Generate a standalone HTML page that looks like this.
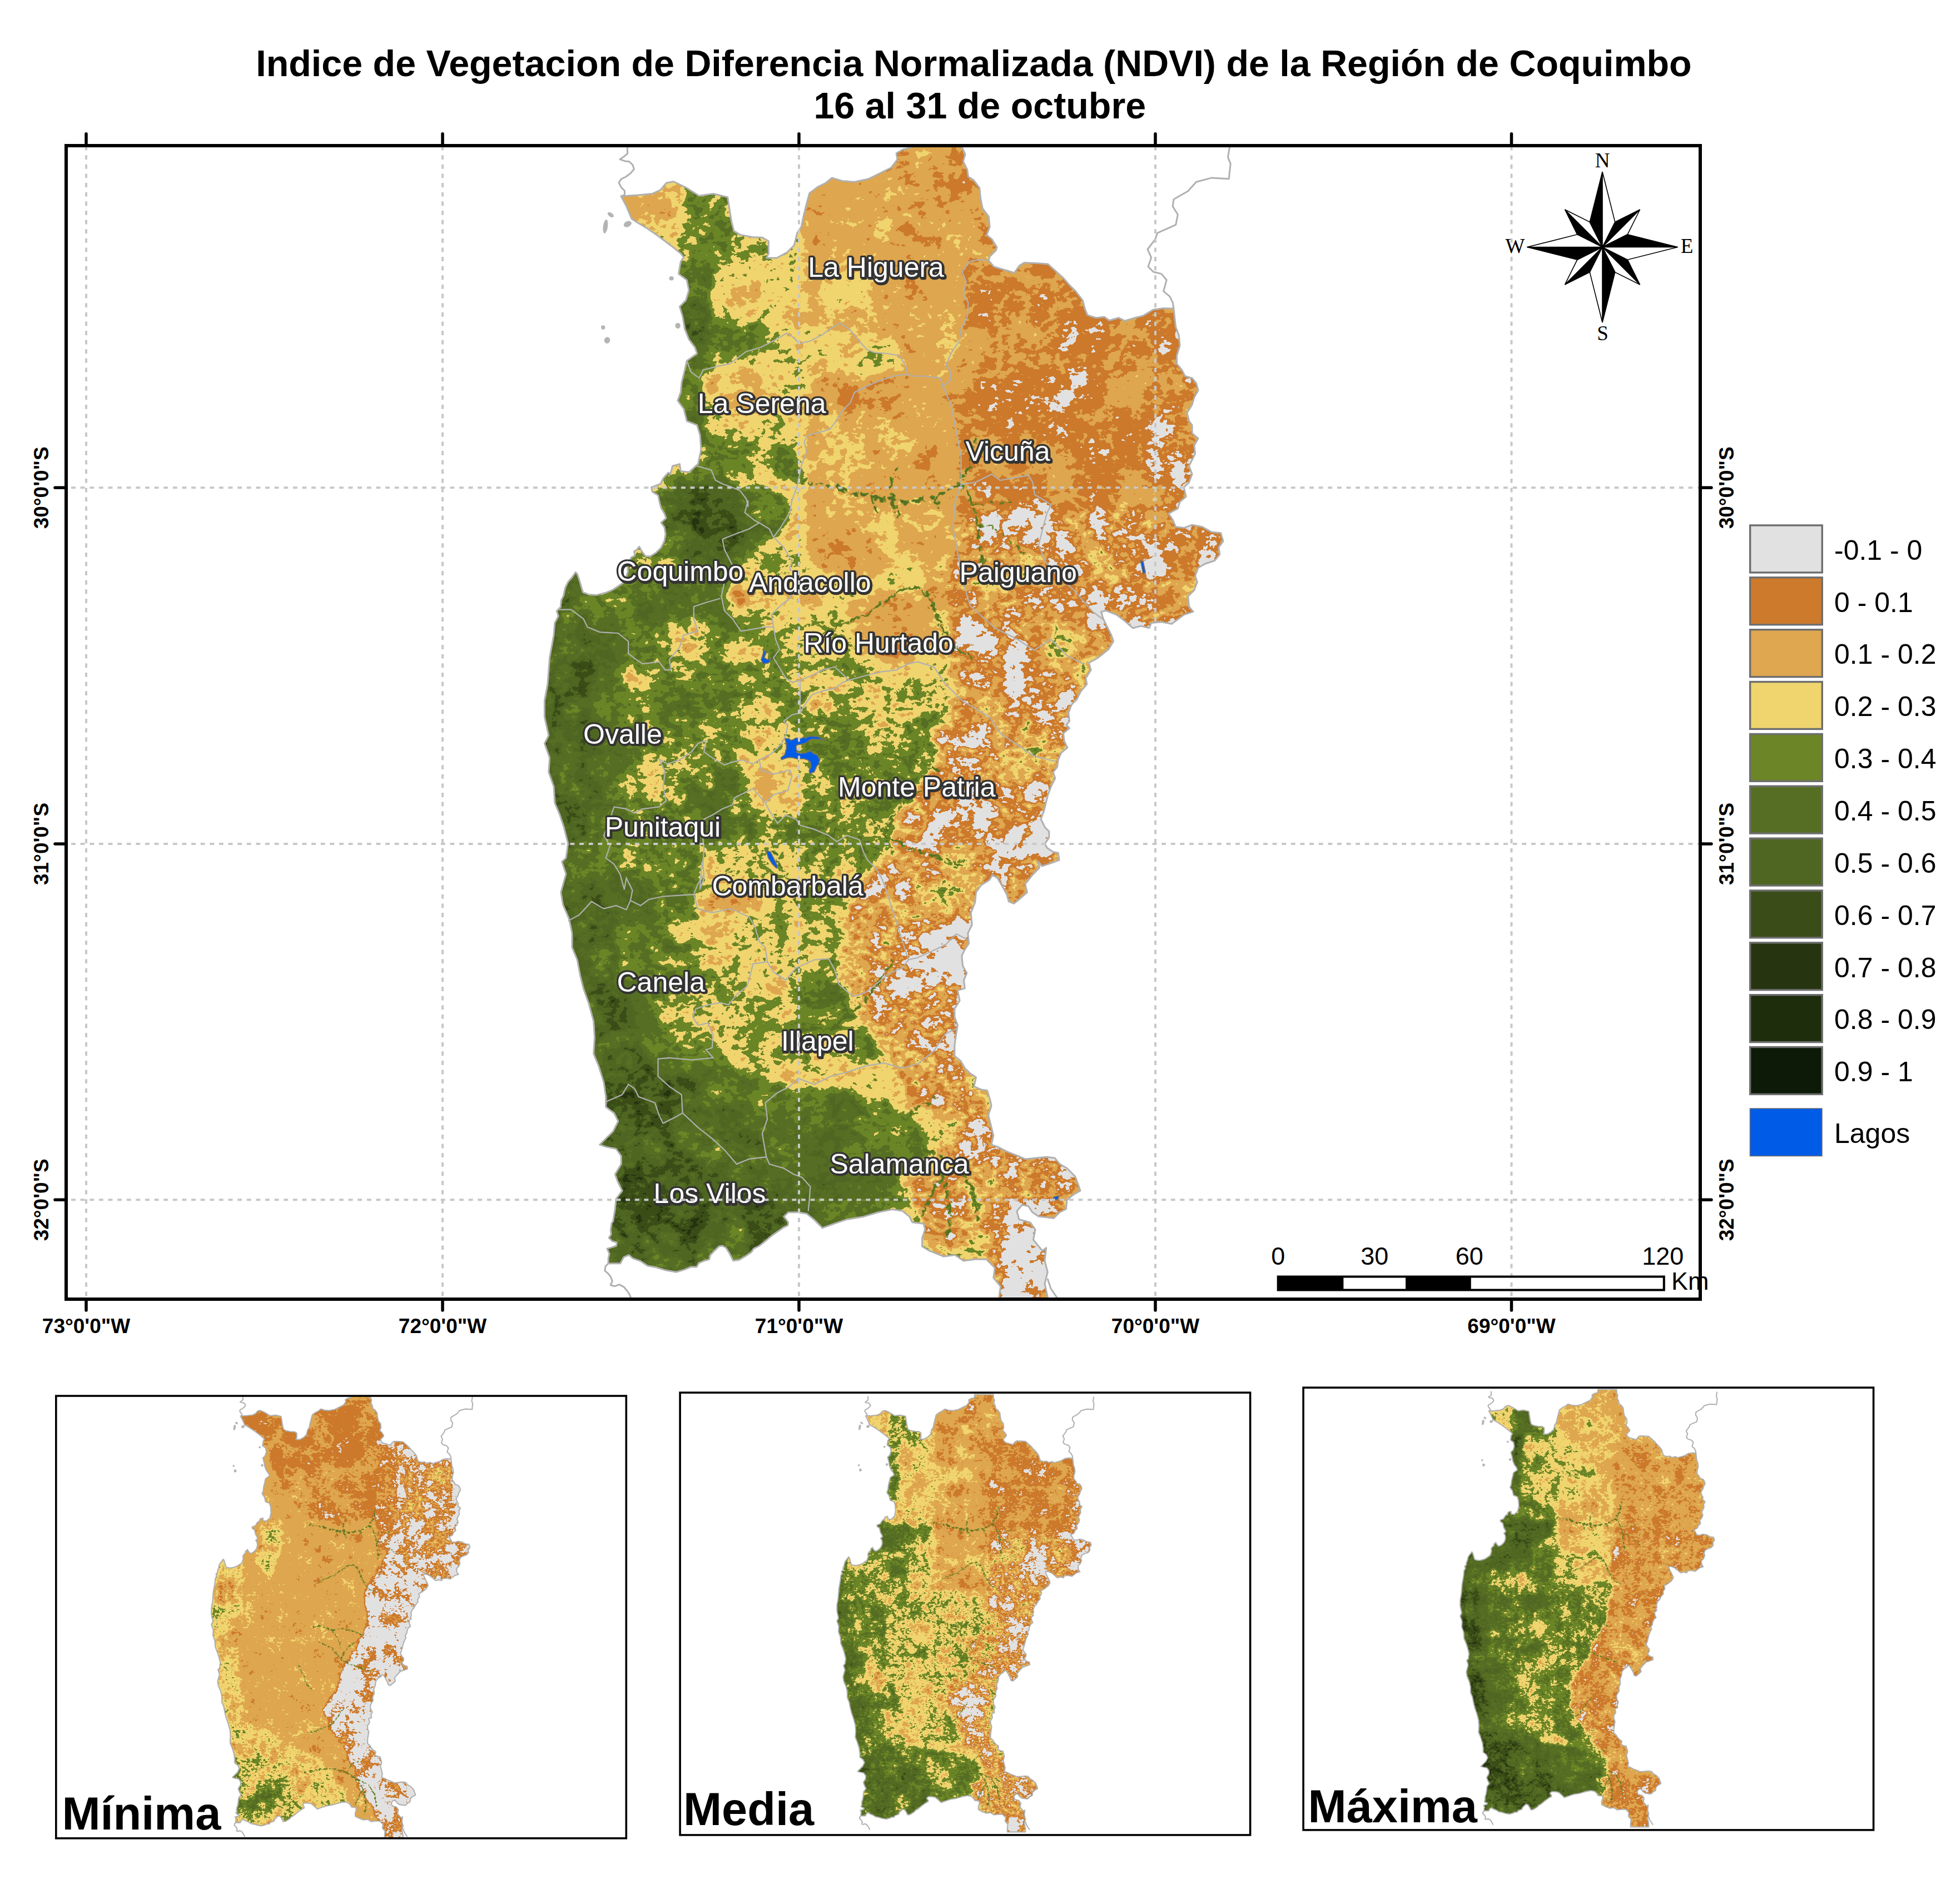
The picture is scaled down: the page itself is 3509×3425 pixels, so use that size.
<!DOCTYPE html>
<html><head><meta charset="utf-8"><title>NDVI Coquimbo</title>
<style>
html,body{margin:0;padding:0;background:#fff;}
svg{display:block;font-family:"Liberation Sans",sans-serif;}
.b{font-weight:bold;}
.lab{font-size:50px;fill:#fff;stroke:#333;stroke-width:6.5px;paint-order:stroke;stroke-linejoin:round;}
.ax{font-size:37px;font-weight:bold;fill:#000;text-anchor:middle;}
.lg{font-size:50px;fill:#000;}
.sc{font-size:45px;fill:#000;text-anchor:middle;}
.cp{font-family:"Liberation Serif",serif;font-size:37px;fill:#000;text-anchor:middle;}
.big{font-size:83px;font-weight:bold;fill:#000;}
</style></head><body>
<svg width="3509" height="3425" viewBox="0 0 3509 3425">
<defs>
<clipPath id="frameclip"><rect x="119" y="262" width="2939" height="2075"/></clipPath>
<clipPath id="region"><path d="M1116.9 352.9 L1147.1 351.1 L1172.8 348.5 L1187.5 341.9 L1198.5 329 L1211.4 326.5 L1235.3 338.2 L1257.4 352.2 L1283.1 348.5 L1308.8 354.8 L1311.8 375 L1315.4 397.1 L1319.9 415.4 L1330.9 422.1 L1352.9 426.5 L1371.3 427.2 L1382.4 433.8 L1382.4 455.9 L1378.7 464 L1397.1 464 L1415.4 454 L1428.3 441.2 L1433.8 419.1 L1441.2 408.1 L1444.9 389.7 L1450.4 367.6 L1455.9 347.4 L1470.6 336.4 L1485.3 329 L1496.3 319.9 L1514.7 325.4 L1536.8 327.2 L1562.5 321.7 L1580.9 312.5 L1602.9 301.5 L1614 286.8 L1612.1 275.7 L1625 268.4 L1639.7 265.4 L1640 250 L1730.5 250 L1730.5 265.4 L1736 277.6 L1732.4 290.4 L1739.7 305.1 L1741.5 318 L1750.7 323.5 L1761.8 338.2 L1763.6 356.6 L1767.3 375 L1778.3 389.7 L1780.1 408.1 L1774.6 422.8 L1783.8 430.1 L1793 444.9 L1791.2 450.4 L1780.1 461.4 L1778.3 468.8 L1787.5 479.8 L1805.9 485.3 L1824.3 490.8 L1833.5 477.9 L1842.6 472.4 L1864.7 473.5 L1884.9 475 L1894.1 483.5 L1912.5 500 L1923.5 512.9 L1934.6 523.9 L1947.4 540.4 L1951.1 555.1 L1955.9 566.9 L1971.3 571.7 L1986 569.9 L1995.2 576.5 L2011.8 571.7 L2022.8 577.2 L2041.2 571.7 L2055.9 568 L2074.3 557 L2092.6 554.4 L2111 555.1 L2112.9 573.5 L2114.7 588.2 L2120.2 602.9 L2122.1 621.3 L2116.5 639.7 L2116.5 654.4 L2125.7 665.4 L2131.2 676.5 L2144.1 680.1 L2151.5 689.3 L2155.1 702.2 L2147.8 715.1 L2144.1 727.9 L2134.9 742.6 L2138.6 757.4 L2144.1 764.7 L2144.1 779.4 L2155.1 788.6 L2147.8 801.5 L2149.6 816.2 L2144.1 827.2 L2138.6 838.2 L2144.1 852.9 L2138.6 867.6 L2129.4 876.8 L2133.1 893.4 L2122.1 902.6 L2118.4 914.7 L2101.8 923.9 L2109.2 934.9 L2114.7 947.8 L2129.4 949.6 L2144.1 944.1 L2162.5 947.8 L2179 957 L2195.6 958.8 L2200 973.5 L2191.9 984.6 L2193.8 997.4 L2184.6 1008.5 L2168 1014 L2155.1 1021.3 L2149.6 1036 L2153.3 1047.1 L2147.8 1061.8 L2136.8 1072.8 L2138.6 1091.2 L2146 1100.4 L2129.4 1105.9 L2114.7 1116.9 L2107.4 1122.4 L2089 1118.8 L2070.6 1120.6 L2066.9 1129.8 L2052.2 1126.1 L2037.5 1129.8 L2022.8 1116.9 L2008.1 1105.9 L1989.7 1098.5 L1980.5 1100.4 L1984.2 1113.2 L1991.5 1127.9 L1998.9 1142.6 L2002.6 1153.7 L1993.4 1168.4 L1975 1183.1 L1958.5 1192.3 L1962.1 1205.1 L1952.9 1219.9 L1954.8 1230.9 L1943.8 1243.8 L1936.4 1258.5 L1927.2 1267.6 L1921.7 1282.4 L1923.5 1297.1 L1918 1304.4 L1923.5 1309.9 L1912.5 1319.1 L1914.3 1333.8 L1919.9 1344.9 L1908.8 1354 L1903.3 1366.9 L1901.5 1379.8 L1894.1 1389 L1897.8 1400 L1890.4 1414.7 L1884.9 1429.4 L1881.2 1444.1 L1877.6 1458.8 L1872.1 1473.5 L1879.4 1488.2 L1886.8 1495.6 L1886.8 1506.6 L1879.4 1517.6 L1883.1 1525 L1894.1 1532.4 L1903.3 1534.2 L1905.1 1547.1 L1890.4 1552.6 L1873.9 1558.1 L1867.6 1550 L1869.5 1561 L1858.5 1572.1 L1843.8 1590.4 L1847.4 1605.1 L1832.7 1618 L1823.5 1625.4 L1814.3 1621.7 L1810.7 1608.8 L1801.5 1592.3 L1794.1 1579.4 L1784.9 1573.9 L1779.4 1583.1 L1764.7 1592.3 L1755.5 1605.1 L1753.7 1623.5 L1746.3 1641.9 L1748.2 1664 L1740.8 1678.7 L1742.6 1697.1 L1735.3 1708.1 L1729.8 1719.1 L1731.6 1737.5 L1739 1750.4 L1733.5 1763.2 L1735.3 1777.9 L1722.4 1781.6 L1726.1 1800 L1716.9 1814.7 L1716.9 1829.4 L1722.4 1844.1 L1718.8 1866.2 L1716.9 1880.9 L1716.9 1899.3 L1727.9 1908.5 L1735.3 1921.3 L1744.5 1930.5 L1755.5 1937.9 L1751.8 1954.4 L1764.7 1959.9 L1775.7 1961.8 L1781.2 1980.1 L1783.1 1989.3 L1777.6 2005.9 L1783.1 2027.9 L1786.8 2042.6 L1783.1 2059.2 L1794.1 2062.9 L1812.5 2072.1 L1830.9 2079.4 L1843.8 2084.9 L1864 2083.1 L1882.4 2081.2 L1897.1 2083.1 L1906.2 2094.1 L1919.1 2101.5 L1933.8 2116.2 L1939.3 2130.9 L1943 2141.9 L1930.1 2149.3 L1919.1 2158.5 L1917.3 2175 L1906.2 2180.5 L1895.2 2191.5 L1882.4 2189.7 L1867.6 2187.9 L1856.6 2180.5 L1849.3 2169.5 L1838.2 2167.6 L1829 2178.7 L1832.7 2193.4 L1852.9 2198.9 L1862.1 2211.8 L1858.5 2230.1 L1867.6 2241.2 L1875 2250 L1881.6 2244.8 L1879 2267.9 L1884.2 2288.4 L1879 2308.9 L1884.2 2333 L1884 2350 L1797 2350 L1797 2333 L1799.6 2314 L1786.8 2298.6 L1789.3 2280.7 L1774 2265.3 L1753.5 2265.3 L1733 2267.9 L1717.6 2257.6 L1697.1 2260.2 L1671.5 2249.9 L1658.6 2242.3 L1658.6 2226.9 L1663.8 2211.5 L1661.2 2201.3 L1640.7 2198.7 L1635.6 2188.4 L1622.8 2178.2 L1604.8 2175.6 L1579.2 2180.8 L1553.6 2188.4 L1522.8 2193.6 L1499.7 2201.3 L1479.2 2208.9 L1463.9 2193.6 L1451.1 2183.3 L1435.7 2180.8 L1417.7 2180.8 L1410 2188.4 L1417.7 2198.7 L1417 2204.1 L1408.8 2208.2 L1398.5 2215.4 L1388.3 2222.6 L1376 2232.8 L1365.7 2241 L1355.5 2246.1 L1351.4 2252.3 L1341.1 2259.5 L1328.8 2266.6 L1318.6 2267.7 L1315.5 2261.5 L1311.4 2253.3 L1305.3 2244.1 L1299.1 2241 L1293 2242 L1283.7 2251.3 L1277.6 2257.4 L1275.5 2265.6 L1267.3 2267.7 L1257.1 2271.8 L1253 2278.9 L1242.7 2278.9 L1230.4 2284.1 L1216.1 2288.2 L1197.6 2285.1 L1181.2 2280 L1164.8 2276.9 L1152.5 2268.7 L1138.2 2263.6 L1131 2257.4 L1121.8 2261.5 L1115.6 2272.8 L1094.1 2272.8 L1094.1 2263.6 L1096.1 2255.4 L1092 2246.1 L1099.2 2244.1 L1108.4 2241 L1109.5 2234.9 L1101.3 2232.8 L1095.1 2226.7 L1099.2 2220.5 L1098.2 2212.3 L1100.2 2200 L1102.6 2197.1 L1106.2 2175 L1108.1 2156.6 L1119.1 2141.9 L1111.8 2127.2 L1106.2 2112.5 L1117.3 2094.1 L1117.3 2079.4 L1108.1 2066.5 L1089.7 2062.9 L1078.7 2059.2 L1091.5 2046.3 L1102.6 2035.3 L1111.8 2016.9 L1104.4 2002.2 L1089.7 1991.2 L1089.7 1972.8 L1086 1947.1 L1076.8 1917.6 L1067.6 1895.6 L1069.5 1866.2 L1067.6 1836.8 L1058.5 1803.7 L1049.3 1777.9 L1043.8 1755.9 L1038.2 1726.5 L1029 1704.4 L1029 1678.7 L1023.5 1652.9 L1012.5 1627.2 L1008.8 1605.1 L1018 1572.1 L1010.7 1550 L1018 1543.4 L1021.7 1517.6 L1014.3 1488.2 L1007 1466.2 L997.8 1444.1 L996 1414.7 L986.8 1389 L988.6 1363.2 L979.4 1337.5 L986.8 1322.8 L979.4 1289.7 L979.4 1260.3 L984.9 1230.9 L988.6 1183.1 L996 1142.6 L997.8 1120.6 L1004.3 1108.3 L1001.3 1099.1 L1008.4 1091.9 L1009.5 1079.6 L1013.6 1071.4 L1016.6 1057.1 L1021.8 1046.8 L1028.9 1038.6 L1035.1 1029.4 L1038.2 1032.5 L1041.2 1040.7 L1045.3 1055 L1048.4 1065.3 L1058.7 1069.4 L1073 1070.4 L1089.4 1066.3 L1101.7 1061.2 L1114 1053 L1123.2 1046.8 L1129.4 1028.4 L1128.4 1014 L1135.5 1002.7 L1141.7 999.7 L1140.7 991.5 L1144.8 989.4 L1149.9 983.3 L1154 991.5 L1161.2 1000.7 L1169.4 1000.7 L1179.6 994.5 L1188.9 985.3 L1195 973 L1197.1 960.7 L1195 948.4 L1188.9 940.2 L1198.1 932 L1195 923.8 L1188.9 913.6 L1185.8 901.3 L1183.7 891 L1173.5 884.9 L1171.4 876.7 L1187.8 870.5 L1193 860.3 L1202.2 850 L1205.9 852.9 L1209.6 838.2 L1222.4 834.6 L1224.3 847.4 L1239 849.3 L1255.5 834.6 L1261 808.8 L1259.2 783.1 L1253.7 764.7 L1235.3 757.4 L1229.8 735.3 L1218.8 720.6 L1224.3 705.9 L1226.1 687.5 L1231.6 665.4 L1235.3 648.9 L1253.7 636 L1250 625 L1239 610.3 L1231.6 591.9 L1227.9 569.9 L1222.4 551.5 L1233.5 540.4 L1239 522.1 L1235.3 503.7 L1220.6 492.6 L1224.3 470.6 L1229.8 463.2 L1224.3 455.9 L1205.9 441.2 L1183.8 424.6 L1165.4 411.8 L1147.1 400.7 L1136 393.4 L1126.8 371.3Z"/></clipPath>
<path id="outline" d="M1116.9 352.9 L1147.1 351.1 L1172.8 348.5 L1187.5 341.9 L1198.5 329 L1211.4 326.5 L1235.3 338.2 L1257.4 352.2 L1283.1 348.5 L1308.8 354.8 L1311.8 375 L1315.4 397.1 L1319.9 415.4 L1330.9 422.1 L1352.9 426.5 L1371.3 427.2 L1382.4 433.8 L1382.4 455.9 L1378.7 464 L1397.1 464 L1415.4 454 L1428.3 441.2 L1433.8 419.1 L1441.2 408.1 L1444.9 389.7 L1450.4 367.6 L1455.9 347.4 L1470.6 336.4 L1485.3 329 L1496.3 319.9 L1514.7 325.4 L1536.8 327.2 L1562.5 321.7 L1580.9 312.5 L1602.9 301.5 L1614 286.8 L1612.1 275.7 L1625 268.4 L1639.7 265.4 L1640 250 L1730.5 250 L1730.5 265.4 L1736 277.6 L1732.4 290.4 L1739.7 305.1 L1741.5 318 L1750.7 323.5 L1761.8 338.2 L1763.6 356.6 L1767.3 375 L1778.3 389.7 L1780.1 408.1 L1774.6 422.8 L1783.8 430.1 L1793 444.9 L1791.2 450.4 L1780.1 461.4 L1778.3 468.8 L1787.5 479.8 L1805.9 485.3 L1824.3 490.8 L1833.5 477.9 L1842.6 472.4 L1864.7 473.5 L1884.9 475 L1894.1 483.5 L1912.5 500 L1923.5 512.9 L1934.6 523.9 L1947.4 540.4 L1951.1 555.1 L1955.9 566.9 L1971.3 571.7 L1986 569.9 L1995.2 576.5 L2011.8 571.7 L2022.8 577.2 L2041.2 571.7 L2055.9 568 L2074.3 557 L2092.6 554.4 L2111 555.1 L2112.9 573.5 L2114.7 588.2 L2120.2 602.9 L2122.1 621.3 L2116.5 639.7 L2116.5 654.4 L2125.7 665.4 L2131.2 676.5 L2144.1 680.1 L2151.5 689.3 L2155.1 702.2 L2147.8 715.1 L2144.1 727.9 L2134.9 742.6 L2138.6 757.4 L2144.1 764.7 L2144.1 779.4 L2155.1 788.6 L2147.8 801.5 L2149.6 816.2 L2144.1 827.2 L2138.6 838.2 L2144.1 852.9 L2138.6 867.6 L2129.4 876.8 L2133.1 893.4 L2122.1 902.6 L2118.4 914.7 L2101.8 923.9 L2109.2 934.9 L2114.7 947.8 L2129.4 949.6 L2144.1 944.1 L2162.5 947.8 L2179 957 L2195.6 958.8 L2200 973.5 L2191.9 984.6 L2193.8 997.4 L2184.6 1008.5 L2168 1014 L2155.1 1021.3 L2149.6 1036 L2153.3 1047.1 L2147.8 1061.8 L2136.8 1072.8 L2138.6 1091.2 L2146 1100.4 L2129.4 1105.9 L2114.7 1116.9 L2107.4 1122.4 L2089 1118.8 L2070.6 1120.6 L2066.9 1129.8 L2052.2 1126.1 L2037.5 1129.8 L2022.8 1116.9 L2008.1 1105.9 L1989.7 1098.5 L1980.5 1100.4 L1984.2 1113.2 L1991.5 1127.9 L1998.9 1142.6 L2002.6 1153.7 L1993.4 1168.4 L1975 1183.1 L1958.5 1192.3 L1962.1 1205.1 L1952.9 1219.9 L1954.8 1230.9 L1943.8 1243.8 L1936.4 1258.5 L1927.2 1267.6 L1921.7 1282.4 L1923.5 1297.1 L1918 1304.4 L1923.5 1309.9 L1912.5 1319.1 L1914.3 1333.8 L1919.9 1344.9 L1908.8 1354 L1903.3 1366.9 L1901.5 1379.8 L1894.1 1389 L1897.8 1400 L1890.4 1414.7 L1884.9 1429.4 L1881.2 1444.1 L1877.6 1458.8 L1872.1 1473.5 L1879.4 1488.2 L1886.8 1495.6 L1886.8 1506.6 L1879.4 1517.6 L1883.1 1525 L1894.1 1532.4 L1903.3 1534.2 L1905.1 1547.1 L1890.4 1552.6 L1873.9 1558.1 L1867.6 1550 L1869.5 1561 L1858.5 1572.1 L1843.8 1590.4 L1847.4 1605.1 L1832.7 1618 L1823.5 1625.4 L1814.3 1621.7 L1810.7 1608.8 L1801.5 1592.3 L1794.1 1579.4 L1784.9 1573.9 L1779.4 1583.1 L1764.7 1592.3 L1755.5 1605.1 L1753.7 1623.5 L1746.3 1641.9 L1748.2 1664 L1740.8 1678.7 L1742.6 1697.1 L1735.3 1708.1 L1729.8 1719.1 L1731.6 1737.5 L1739 1750.4 L1733.5 1763.2 L1735.3 1777.9 L1722.4 1781.6 L1726.1 1800 L1716.9 1814.7 L1716.9 1829.4 L1722.4 1844.1 L1718.8 1866.2 L1716.9 1880.9 L1716.9 1899.3 L1727.9 1908.5 L1735.3 1921.3 L1744.5 1930.5 L1755.5 1937.9 L1751.8 1954.4 L1764.7 1959.9 L1775.7 1961.8 L1781.2 1980.1 L1783.1 1989.3 L1777.6 2005.9 L1783.1 2027.9 L1786.8 2042.6 L1783.1 2059.2 L1794.1 2062.9 L1812.5 2072.1 L1830.9 2079.4 L1843.8 2084.9 L1864 2083.1 L1882.4 2081.2 L1897.1 2083.1 L1906.2 2094.1 L1919.1 2101.5 L1933.8 2116.2 L1939.3 2130.9 L1943 2141.9 L1930.1 2149.3 L1919.1 2158.5 L1917.3 2175 L1906.2 2180.5 L1895.2 2191.5 L1882.4 2189.7 L1867.6 2187.9 L1856.6 2180.5 L1849.3 2169.5 L1838.2 2167.6 L1829 2178.7 L1832.7 2193.4 L1852.9 2198.9 L1862.1 2211.8 L1858.5 2230.1 L1867.6 2241.2 L1875 2250 L1881.6 2244.8 L1879 2267.9 L1884.2 2288.4 L1879 2308.9 L1884.2 2333 L1884 2350 L1797 2350 L1797 2333 L1799.6 2314 L1786.8 2298.6 L1789.3 2280.7 L1774 2265.3 L1753.5 2265.3 L1733 2267.9 L1717.6 2257.6 L1697.1 2260.2 L1671.5 2249.9 L1658.6 2242.3 L1658.6 2226.9 L1663.8 2211.5 L1661.2 2201.3 L1640.7 2198.7 L1635.6 2188.4 L1622.8 2178.2 L1604.8 2175.6 L1579.2 2180.8 L1553.6 2188.4 L1522.8 2193.6 L1499.7 2201.3 L1479.2 2208.9 L1463.9 2193.6 L1451.1 2183.3 L1435.7 2180.8 L1417.7 2180.8 L1410 2188.4 L1417.7 2198.7 L1417 2204.1 L1408.8 2208.2 L1398.5 2215.4 L1388.3 2222.6 L1376 2232.8 L1365.7 2241 L1355.5 2246.1 L1351.4 2252.3 L1341.1 2259.5 L1328.8 2266.6 L1318.6 2267.7 L1315.5 2261.5 L1311.4 2253.3 L1305.3 2244.1 L1299.1 2241 L1293 2242 L1283.7 2251.3 L1277.6 2257.4 L1275.5 2265.6 L1267.3 2267.7 L1257.1 2271.8 L1253 2278.9 L1242.7 2278.9 L1230.4 2284.1 L1216.1 2288.2 L1197.6 2285.1 L1181.2 2280 L1164.8 2276.9 L1152.5 2268.7 L1138.2 2263.6 L1131 2257.4 L1121.8 2261.5 L1115.6 2272.8 L1094.1 2272.8 L1094.1 2263.6 L1096.1 2255.4 L1092 2246.1 L1099.2 2244.1 L1108.4 2241 L1109.5 2234.9 L1101.3 2232.8 L1095.1 2226.7 L1099.2 2220.5 L1098.2 2212.3 L1100.2 2200 L1102.6 2197.1 L1106.2 2175 L1108.1 2156.6 L1119.1 2141.9 L1111.8 2127.2 L1106.2 2112.5 L1117.3 2094.1 L1117.3 2079.4 L1108.1 2066.5 L1089.7 2062.9 L1078.7 2059.2 L1091.5 2046.3 L1102.6 2035.3 L1111.8 2016.9 L1104.4 2002.2 L1089.7 1991.2 L1089.7 1972.8 L1086 1947.1 L1076.8 1917.6 L1067.6 1895.6 L1069.5 1866.2 L1067.6 1836.8 L1058.5 1803.7 L1049.3 1777.9 L1043.8 1755.9 L1038.2 1726.5 L1029 1704.4 L1029 1678.7 L1023.5 1652.9 L1012.5 1627.2 L1008.8 1605.1 L1018 1572.1 L1010.7 1550 L1018 1543.4 L1021.7 1517.6 L1014.3 1488.2 L1007 1466.2 L997.8 1444.1 L996 1414.7 L986.8 1389 L988.6 1363.2 L979.4 1337.5 L986.8 1322.8 L979.4 1289.7 L979.4 1260.3 L984.9 1230.9 L988.6 1183.1 L996 1142.6 L997.8 1120.6 L1004.3 1108.3 L1001.3 1099.1 L1008.4 1091.9 L1009.5 1079.6 L1013.6 1071.4 L1016.6 1057.1 L1021.8 1046.8 L1028.9 1038.6 L1035.1 1029.4 L1038.2 1032.5 L1041.2 1040.7 L1045.3 1055 L1048.4 1065.3 L1058.7 1069.4 L1073 1070.4 L1089.4 1066.3 L1101.7 1061.2 L1114 1053 L1123.2 1046.8 L1129.4 1028.4 L1128.4 1014 L1135.5 1002.7 L1141.7 999.7 L1140.7 991.5 L1144.8 989.4 L1149.9 983.3 L1154 991.5 L1161.2 1000.7 L1169.4 1000.7 L1179.6 994.5 L1188.9 985.3 L1195 973 L1197.1 960.7 L1195 948.4 L1188.9 940.2 L1198.1 932 L1195 923.8 L1188.9 913.6 L1185.8 901.3 L1183.7 891 L1173.5 884.9 L1171.4 876.7 L1187.8 870.5 L1193 860.3 L1202.2 850 L1205.9 852.9 L1209.6 838.2 L1222.4 834.6 L1224.3 847.4 L1239 849.3 L1255.5 834.6 L1261 808.8 L1259.2 783.1 L1253.7 764.7 L1235.3 757.4 L1229.8 735.3 L1218.8 720.6 L1224.3 705.9 L1226.1 687.5 L1231.6 665.4 L1235.3 648.9 L1253.7 636 L1250 625 L1239 610.3 L1231.6 591.9 L1227.9 569.9 L1222.4 551.5 L1233.5 540.4 L1239 522.1 L1235.3 503.7 L1220.6 492.6 L1224.3 470.6 L1229.8 463.2 L1224.3 455.9 L1205.9 441.2 L1183.8 424.6 L1165.4 411.8 L1147.1 400.7 L1136 393.4 L1126.8 371.3Z"/>
<filter id="fMain" filterUnits="userSpaceOnUse" x="960" y="240" width="1260" height="2120" color-interpolation-filters="sRGB">
<feColorMatrix in="SourceGraphic" type="matrix" values="1 0 0 0 0  1 0 0 0 0  1 0 0 0 0  0 0 0 0 1" result="fv0"/>
<feGaussianBlur in="fv0" stdDeviation="7" result="fv"/>
<feColorMatrix in="SourceGraphic" type="matrix" values="0 0 1 0 0  0 0 1 0 0  0 0 1 0 0  0 0 0 0 1" result="mk0"/>
<feGaussianBlur in="mk0" stdDeviation="12" result="mk"/>
<feTurbulence type="fractalNoise" baseFrequency="0.009" numOctaves="3" seed="7" result="n"/>
<feColorMatrix in="n" type="matrix" values="1 0 0 0 0  1 0 0 0 0  1 0 0 0 0  0 0 0 0 1" result="ng"/>
<feTurbulence type="fractalNoise" baseFrequency="0.07 0.11" numOctaves="3" seed="18" result="n2"/>
<feColorMatrix in="n2" type="matrix" values="0 1 0 0 0  0 1 0 0 0  0 1 0 0 0  0 0 0 0 1" result="ng2"/>
<feTurbulence type="turbulence" baseFrequency="0.02" numOctaves="4" seed="12" result="n3"/>
<feColorMatrix in="n3" type="matrix" values="-1 0 0 0 1  -1 0 0 0 1  -1 0 0 0 1  0 0 0 0 1" result="ng3"/>
<feComposite in="ng" in2="ng2" operator="arithmetic" k1="0" k2="0.4" k3="0.26" k4="-0.0340" result="N1"/>
<feComposite in="N1" in2="ng3" operator="arithmetic" k1="0" k2="1" k3="0.3" k4="0" result="N"/>
<feComposite in="mk" in2="N" operator="arithmetic" k1="2.000" k2="-1.000" k3="0" k4="0.5" result="mn"/>
<feComposite in="fv" in2="mn" operator="arithmetic" k1="0" k2="1.0" k3="1" k4="-0.5000" result="s"/>
<feComponentTransfer in="s">
<feFuncR type="discrete" tableValues="0.8824 0.8039 0.8745 0.9412 0.4196 0.3373 0.3098 0.2275 0.1490"/>
<feFuncG type="discrete" tableValues="0.8824 0.4784 0.6549 0.8314 0.5216 0.4314 0.4000 0.3020 0.2078"/>
<feFuncB type="discrete" tableValues="0.8824 0.1725 0.3098 0.4314 0.1529 0.1373 0.1333 0.0941 0.0627"/>
</feComponentTransfer>
</filter>
<filter id="fMin" filterUnits="userSpaceOnUse" x="960" y="240" width="1260" height="2120" color-interpolation-filters="sRGB">
<feColorMatrix in="SourceGraphic" type="matrix" values="1 0 0 0 0  1 0 0 0 0  1 0 0 0 0  0 0 0 0 1" result="fv0"/>
<feGaussianBlur in="fv0" stdDeviation="7" result="fv"/>
<feColorMatrix in="SourceGraphic" type="matrix" values="0 0 1 0 0  0 0 1 0 0  0 0 1 0 0  0 0 0 0 1" result="mk0"/>
<feGaussianBlur in="mk0" stdDeviation="12" result="mk"/>
<feTurbulence type="fractalNoise" baseFrequency="0.009" numOctaves="3" seed="21" result="n"/>
<feColorMatrix in="n" type="matrix" values="1 0 0 0 0  1 0 0 0 0  1 0 0 0 0  0 0 0 0 1" result="ng"/>
<feTurbulence type="fractalNoise" baseFrequency="0.07 0.11" numOctaves="3" seed="32" result="n2"/>
<feColorMatrix in="n2" type="matrix" values="0 1 0 0 0  0 1 0 0 0  0 1 0 0 0  0 0 0 0 1" result="ng2"/>
<feTurbulence type="turbulence" baseFrequency="0.02" numOctaves="4" seed="26" result="n3"/>
<feColorMatrix in="n3" type="matrix" values="-1 0 0 0 1  -1 0 0 0 1  -1 0 0 0 1  0 0 0 0 1" result="ng3"/>
<feComposite in="ng" in2="ng2" operator="arithmetic" k1="0" k2="0.4" k3="0.26" k4="-0.0340" result="N1"/>
<feComposite in="N1" in2="ng3" operator="arithmetic" k1="0" k2="1" k3="0.3" k4="0" result="N"/>
<feComposite in="mk" in2="N" operator="arithmetic" k1="2.000" k2="-1.000" k3="0" k4="0.5" result="mn"/>
<feComposite in="fv" in2="mn" operator="arithmetic" k1="0" k2="1.0" k3="1" k4="-0.5000" result="s"/>
<feComponentTransfer in="s">
<feFuncR type="discrete" tableValues="0.8824 0.8039 0.8745 0.9412 0.4196 0.3373 0.3098 0.2275 0.1490"/>
<feFuncG type="discrete" tableValues="0.8824 0.4784 0.6549 0.8314 0.5216 0.4314 0.4000 0.3020 0.2078"/>
<feFuncB type="discrete" tableValues="0.8824 0.1725 0.3098 0.4314 0.1529 0.1373 0.1333 0.0941 0.0627"/>
</feComponentTransfer>
</filter>
<filter id="fMed" filterUnits="userSpaceOnUse" x="960" y="240" width="1260" height="2120" color-interpolation-filters="sRGB">
<feColorMatrix in="SourceGraphic" type="matrix" values="1 0 0 0 0  1 0 0 0 0  1 0 0 0 0  0 0 0 0 1" result="fv0"/>
<feGaussianBlur in="fv0" stdDeviation="7" result="fv"/>
<feColorMatrix in="SourceGraphic" type="matrix" values="0 0 1 0 0  0 0 1 0 0  0 0 1 0 0  0 0 0 0 1" result="mk0"/>
<feGaussianBlur in="mk0" stdDeviation="12" result="mk"/>
<feTurbulence type="fractalNoise" baseFrequency="0.009" numOctaves="3" seed="33" result="n"/>
<feColorMatrix in="n" type="matrix" values="1 0 0 0 0  1 0 0 0 0  1 0 0 0 0  0 0 0 0 1" result="ng"/>
<feTurbulence type="fractalNoise" baseFrequency="0.07 0.11" numOctaves="3" seed="44" result="n2"/>
<feColorMatrix in="n2" type="matrix" values="0 1 0 0 0  0 1 0 0 0  0 1 0 0 0  0 0 0 0 1" result="ng2"/>
<feTurbulence type="turbulence" baseFrequency="0.02" numOctaves="4" seed="38" result="n3"/>
<feColorMatrix in="n3" type="matrix" values="-1 0 0 0 1  -1 0 0 0 1  -1 0 0 0 1  0 0 0 0 1" result="ng3"/>
<feComposite in="ng" in2="ng2" operator="arithmetic" k1="0" k2="0.4" k3="0.26" k4="-0.0340" result="N1"/>
<feComposite in="N1" in2="ng3" operator="arithmetic" k1="0" k2="1" k3="0.3" k4="0" result="N"/>
<feComposite in="mk" in2="N" operator="arithmetic" k1="2.000" k2="-1.000" k3="0" k4="0.5" result="mn"/>
<feComposite in="fv" in2="mn" operator="arithmetic" k1="0" k2="0.78" k3="1" k4="-0.4533" result="s"/>
<feComponentTransfer in="s">
<feFuncR type="discrete" tableValues="0.8824 0.8039 0.8745 0.9412 0.4196 0.3373 0.3098 0.2275 0.1490"/>
<feFuncG type="discrete" tableValues="0.8824 0.4784 0.6549 0.8314 0.5216 0.4314 0.4000 0.3020 0.2078"/>
<feFuncB type="discrete" tableValues="0.8824 0.1725 0.3098 0.4314 0.1529 0.1373 0.1333 0.0941 0.0627"/>
</feComponentTransfer>
</filter>
<filter id="fMax" filterUnits="userSpaceOnUse" x="960" y="240" width="1260" height="2120" color-interpolation-filters="sRGB">
<feColorMatrix in="SourceGraphic" type="matrix" values="1 0 0 0 0  1 0 0 0 0  1 0 0 0 0  0 0 0 0 1" result="fv0"/>
<feGaussianBlur in="fv0" stdDeviation="7" result="fv"/>
<feColorMatrix in="SourceGraphic" type="matrix" values="0 0 1 0 0  0 0 1 0 0  0 0 1 0 0  0 0 0 0 1" result="mk0"/>
<feGaussianBlur in="mk0" stdDeviation="12" result="mk"/>
<feTurbulence type="fractalNoise" baseFrequency="0.009" numOctaves="3" seed="45" result="n"/>
<feColorMatrix in="n" type="matrix" values="1 0 0 0 0  1 0 0 0 0  1 0 0 0 0  0 0 0 0 1" result="ng"/>
<feTurbulence type="fractalNoise" baseFrequency="0.07 0.11" numOctaves="3" seed="56" result="n2"/>
<feColorMatrix in="n2" type="matrix" values="0 1 0 0 0  0 1 0 0 0  0 1 0 0 0  0 0 0 0 1" result="ng2"/>
<feTurbulence type="turbulence" baseFrequency="0.02" numOctaves="4" seed="50" result="n3"/>
<feColorMatrix in="n3" type="matrix" values="-1 0 0 0 1  -1 0 0 0 1  -1 0 0 0 1  0 0 0 0 1" result="ng3"/>
<feComposite in="ng" in2="ng2" operator="arithmetic" k1="0" k2="0.4" k3="0.26" k4="-0.0340" result="N1"/>
<feComposite in="N1" in2="ng3" operator="arithmetic" k1="0" k2="1" k3="0.3" k4="0" result="N"/>
<feComposite in="mk" in2="N" operator="arithmetic" k1="2.000" k2="-1.000" k3="0" k4="0.5" result="mn"/>
<feComposite in="fv" in2="mn" operator="arithmetic" k1="0" k2="1.0" k3="1" k4="-0.4500" result="s"/>
<feComponentTransfer in="s">
<feFuncR type="discrete" tableValues="0.8824 0.8039 0.8745 0.9412 0.4196 0.3373 0.3098 0.2275 0.1490"/>
<feFuncG type="discrete" tableValues="0.8824 0.4784 0.6549 0.8314 0.5216 0.4314 0.4000 0.3020 0.2078"/>
<feFuncB type="discrete" tableValues="0.8824 0.1725 0.3098 0.4314 0.1529 0.1373 0.1333 0.0941 0.0627"/>
</feComponentTransfer>
</filter>
<filter id="rough" filterUnits="userSpaceOnUse" x="960" y="240" width="1260" height="2120">
<feTurbulence type="fractalNoise" baseFrequency="0.09" numOctaves="2" seed="3" result="t"/>
<feDisplacementMap in="SourceGraphic" in2="t" scale="16" xChannelSelector="R" yChannelSelector="G"/>
</filter>
<g id="field"><rect x="900" y="200" width="1400" height="2200" fill="#46463d"/>
<path fill="#626259" d="M950 316.6 L1416.4 416.6 L1446.4 423.2 L1446.4 583.2 L1483.1 596.5 L1616.3 609.8 L1636.3 663.1 L1549.7 683.1 L1483.1 669.8 L1449.7 709.8 L1446.4 889.7 L1456.4 1016.3 L1549.7 1042.9 L1649.6 1016.3 L1709.6 1002.9 L1716.3 1182.9 L1702.9 1350.1 L1689.6 1349.9 L1629.7 1449.9 L1596.3 1529.9 L1549.7 1596.5 L1516.4 1663.1 L1503 1756.4 L1536.4 1823 L1583 1883 L1623 1949.6 L1683 2016.3 L1693 2116.2 L1683 2182.9 L1683 2249.5 L1683 2382.8 L950 2382.8Z"/>
<path fill="#545459" d="M1103.3 330 L1213.2 316.6 L1229.9 383.3 L1216.5 449.9 L1149.9 409.9Z"/>
<path fill="#47474c" d="M1463.1 906.3 L1649.6 909.7 L1683 956.3 L1649.6 1009.6 L1549.7 1029.6 L1469.7 1002.9Z"/>
<path fill="#47474c" d="M1523 1076.2 L1616.3 1062.9 L1676.3 1089.6 L1683 1169.5 L1583 1182.9 L1523 1142.9Z"/>
<path fill="#555559" d="M1296.5 503.2 L1363.1 509.9 L1376.4 563.2 L1309.8 569.8Z"/>
<path fill="#565659" d="M1323.1 676.4 L1403.1 683.1 L1416.4 743.1 L1336.5 743.1Z"/>
<path fill="#63634c" d="M1569.7 386.6 L1649.6 399.9 L1643 439.9 L1576.3 433.2Z"/>
<path fill="#4f4f59" d="M1483.1 496.5 L1616.3 509.9 L1656.3 563.2 L1549.7 596.5 L1476.4 569.8Z"/>
<path fill="#4f4f59" d="M1456.4 709.8 L1549.7 703.1 L1616.3 756.4 L1683 823 L1616.3 849.7 L1483.1 836.4 L1449.7 783.1Z"/>
<path fill="#555566" d="M1643 1016.3 L1709.6 1002.9 L1716.3 1182.9 L1683 1182.9 L1676.3 1089.6Z"/>
<path fill="#7b7b80" d="M1229.9 316.6 L1323.1 343.3 L1323.1 403.3 L1389.8 429.9 L1389.8 466.6 L1323.1 473.2 L1229.9 473.2 L1216.5 449.9 L1229.9 383.3Z"/>
<path fill="#969680" d="M1239 339 L1260 351.6 L1310.5 355.8 L1314.7 402 L1321 418.9 L1281 427.3 L1260 402 L1239 372.6Z"/>
<path fill="#8e8e80" d="M1268 410 L1322 420 L1345 428 L1340 446 L1290 450 L1262 436Z"/>
<path fill="#939366" d="M1203.2 469.9 L1286.5 473.2 L1283.2 516.5 L1269.8 549.8 L1268.5 583.2 L1203.2 583.2Z"/>
<path fill="#747480" d="M1263.2 573.2 L1349.8 575.2 L1393.1 596.5 L1349.8 626.5 L1313.1 633.1 L1263.2 636.5Z"/>
<path fill="#939366" d="M1203.2 583.2 L1268.5 583.2 L1283.2 663.1 L1268.5 683.1 L1261.8 729.8 L1268.5 759.7 L1203.2 759.7Z"/>
<path fill="#767680" d="M1203.2 756.4 L1268.5 759.7 L1323.1 766.4 L1349.8 796.4 L1429.8 809.7 L1439.7 863 L1203.2 863Z"/>
<path fill="#999980" d="M1149.9 843 L1216.5 853 L1253.2 873 L1296.5 856.4 L1336.5 883 L1376.4 869.7 L1409.8 889.7 L1439.7 879.7 L1419.8 916.3 L1409.8 956.3 L1376.4 966.3 L1366.5 983 L1326.5 1016.3 L1149.9 1016.3Z"/>
<path fill="#7b7b8c" d="M950 983 L1326.5 1016.3 L1313.1 1082.9 L1323.1 1136.2 L1349.8 1182.9 L1363.1 1202.8 L1416.4 1209.5 L1456.4 1236.2 L1483.1 1276.1 L1549.7 1276.1 L1616.3 1289.5 L1643 1316.1 L1656.3 1350.1 L950 1350.1Z"/>
<path fill="#969666" d="M950 983 L1083.3 1036.3 L1123.2 1116.2 L1109.9 1249.5 L1116.6 1350.1 L950 1350.1Z"/>
<path fill="#939373" d="M1016.6 1016.3 L1323.1 1016.3 L1323.1 1136.2 L1216.5 1116.2 L1116.6 1116.2 L1016.6 1082.9Z"/>
<path fill="#767680" d="M1326.5 1016.3 L1416.4 996.3 L1429.8 1082.9 L1416.4 1209.5 L1363.1 1202.8 L1323.1 1136.2 L1313.1 1082.9Z"/>
<path fill="#747480" d="M1416.4 1209.5 L1456.4 1169.5 L1523 1182.9 L1616.3 1209.5 L1683 1236.2 L1696.3 1350.1 L1656.3 1350.1 L1643 1316.1 L1616.3 1289.5 L1549.7 1276.1 L1483.1 1276.1 L1456.4 1236.2Z"/>
<path fill="#81818c" d="M950 1243.3 L1323.1 1243.3 L1323.1 1363.3 L1349.8 1449.9 L1443.1 1469.9 L1443.1 1516.5 L1269.8 1516.5 L1263.2 1583.2 L1249.8 1649.8 L1269.8 1716.4 L1296.5 1783.1 L1249.8 1849.7 L1323.1 1916.3 L950 1916.3Z"/>
<path fill="#969666" d="M950 1243.3 L1116.6 1243.3 L1129.9 1449.9 L1116.6 1583.2 L1169.9 1716.4 L1189.9 1849.7 L1229.9 1916.3 L950 1916.3Z"/>
<path fill="#636359" d="M1329.8 1363.3 L1416.4 1369.9 L1429.8 1449.9 L1349.8 1449.9Z"/>
<path fill="#76768c" d="M1443.1 1243.3 L1656.3 1243.3 L1696.3 1303.3 L1749.6 1336.6 L1736.3 1423.2 L1696.3 1516.5 L1616.3 1596.5 L1549.7 1609.8 L1516.4 1663.1 L1443.1 1676.4 L1443.1 1516.5Z"/>
<path fill="#676773" d="M1269.8 1516.5 L1443.1 1516.5 L1443.1 1676.4 L1416.4 1756.4 L1429.8 1849.7 L1443.1 1916.3 L1323.1 1916.3 L1249.8 1849.7 L1296.5 1783.1 L1269.8 1716.4 L1249.8 1649.8 L1263.2 1583.2Z"/>
<path fill="#7e7e80" d="M1443.1 1676.4 L1516.4 1663.1 L1523 1756.4 L1589.7 1783.1 L1616.3 1849.7 L1589.7 1903 L1549.7 1923 L1483.1 1936.3 L1443.1 1916.3 L1429.8 1849.7 L1416.4 1756.4Z"/>
<path fill="#939373" d="M950 1916.3 L1323.1 1916.3 L1376.4 1949.6 L1456.4 1956.3 L1536.4 1969.6 L1596.3 1983 L1643 2016.3 L1666.3 2049.6 L1663 2102.9 L1643 2142.9 L1616.3 2182.9 L1589.7 2216.2 L1483.1 2222.8 L950 2382.8Z"/>
<path fill="#aaaa99" d="M1169.9 983 L1169.9 889.7 L1229.9 869.7 L1323.1 889.7 L1349.8 949.6 L1323.1 996.3 L1229.9 1002.9Z"/>
<path fill="#aaaa99" d="M950 1016.3 L1049.9 1036.3 L1069.9 1182.9 L1063.3 1350.1 L950 1350.1Z"/>
<path fill="#a4a499" d="M1229.9 469.9 L1279.8 469.9 L1276.5 583.2 L1263.2 649.8 L1253.2 716.4 L1236.5 676.4 L1219.9 569.8Z"/>
<path fill="#b0b099" d="M950 1243.3 L1056.6 1243.3 L1083.3 1449.9 L1069.9 1583.2 L1116.6 1716.4 L1136.6 1849.7 L1169.9 1916.3 L950 1916.3Z"/>
<path fill="#b2b299" d="M950 1916.3 L1169.9 1916.3 L1229.9 1929.7 L1309.8 1983 L1383.1 2049.6 L1429.8 2116.2 L1416.4 2196.2 L1349.8 2249.5 L1216.5 2289.5 L1083.3 2316.1 L950 2316.1Z"/>
<path fill="#c2c299" d="M1083.3 1949.6 L1176.6 1969.6 L1229.9 2049.6 L1283.2 2116.2 L1269.8 2216.2 L1149.9 2262.8 L1096.6 2182.9 L1089.9 2049.6Z"/>
<path fill="#343454" d="M1742.9 463.2 L1816.2 483.2 L1882.9 469.9 L2282.6 469.9 L2282.6 916.3 L1722.9 916.3 L1726.3 849.7 L1716.3 783.1 L1702.9 716.4 L1712.9 676.4 L1726.3 596.5 L1732.9 516.5Z"/>
<path fill="#3838b2" d="M1722.9 916.3 L2282.6 916.3 L2282.6 1350.1 L1683 1350.1 L1699.6 1249.5 L1709.6 1182.9 L1699.6 1116.2 L1706.3 1049.6 L1722.9 983Z"/>
<path fill="#414154" d="M1583 290 L1616.3 250 L1749.6 250 L1796.2 449.9 L1742.9 463.2 L1683 449.9 L1616.3 416.6 L1576.3 349.9Z"/>
<path fill="#3c3ccc" d="M1702.9 1243.3 L1689.6 1349.9 L1629.7 1449.9 L1596.3 1529.9 L1549.7 1596.5 L1516.4 1663.1 L1503 1756.4 L1536.4 1823 L1583 1883 L1623 1949.6 L1683 2016.3 L1693 2116.2 L1683 2182.9 L1683 2249.5 L1683 2382.8 L2282.6 2382.8 L2282.6 1243.3Z"/>
<path fill="#4747bf" d="M1616.3 2116.2 L1782.9 2102.9 L1789.6 2350.1 L1683 2382.8 L1676.3 2249.5 L1656.3 2182.9Z"/>
<path fill="#2525a6" d="M1876.2 929.7 L1936.2 969.6 L1989.5 1069.6 L2009.5 1136.2 L1976.1 1182.9 L1909.5 1142.9 L1882.9 1049.6Z"/>
<path fill="#2828b2" d="M1736.3 1096.2 L1816.2 1109.6 L1896.2 1196.2 L1869.5 1289.5 L1789.6 1316.1 L1722.9 1276.1 L1716.3 1182.9Z"/>
<path fill="#2b2b80" d="M2076.1 663.1 L2149.4 676.4 L2156 849.7 L2196 969.6 L2149.4 1102.9 L2082.8 1109.6 L2076.1 916.3Z"/>
<path fill="#2929bf" d="M1736.3 1243.3 L1842.9 1243.3 L1836.2 1343.3 L1749.6 1356.6Z"/>
<path fill="#2929bf" d="M1749.6 1416.6 L1896.2 1423.2 L1902.8 1543.2 L1816.2 1583.2 L1742.9 1563.2Z"/>
<path fill="#2c2cd9" d="M1576.3 1643.1 L1683 1623.1 L1736.3 1716.4 L1729.6 1889.7 L1669.6 1916.3 L1589.7 1836.4 L1563 1729.8Z"/>
<path fill="#2b2bbf" d="M1782.9 2076.2 L1882.9 2069.6 L1942.8 2129.5 L1882.9 2196.2 L1869.5 2350.1 L1789.6 2350.1 L1796.2 2216.2Z"/></g>
<g id="fieldmin"><rect x="900" y="200" width="1400" height="2200" fill="#474738"/>
<path fill="#323238" d="M1058.7 273.5 L2283.9 273.5 L2283.9 978 L1793.8 978 L1763.2 886.1 L1732.6 840.2 L1594.7 863.1 L1441.6 840.2 L1365 763.6 L1288.4 625.7 L1211.8 449.6 L1058.7 449.6Z"/>
<path fill="#393959" d="M1303.7 625.7 L1518.1 579.8 L1671.3 625.7 L1732.6 840.2 L1594.7 863.1 L1441.6 840.2 L1365 763.6Z"/>
<path fill="#59596b" d="M905.5 978 L1119.9 978 L1135.2 1192.4 L1089.3 1345.6 L1119.9 1651.9 L1181.2 1805.1 L1303.7 1881.6 L1487.5 1958.2 L1610 2111.4 L1671.3 2341.1 L905.5 2341.1Z"/>
<path fill="#555566" d="M1211.8 855.5 L1303.7 840.2 L1319 978 L1242.5 1100.5 L1181.2 1039.3Z"/>
<path fill="#69698c" d="M997.4 1927.6 L1211.8 1912.3 L1365 2004.2 L1410.9 2157.3 L1365 2295.2 L997.4 2341.1Z"/>
<path fill="#77778c" d="M1089.3 2080.7 L1242.5 2065.4 L1303.7 2172.6 L1211.8 2279.9 L1089.3 2279.9Z"/>
<path fill="#10108c" d="M1763.2 464.9 L1824.5 487.9 L1947 503.2 L2130.8 549.1 L2283.9 579.8 L2283.9 2417.7 L1793.8 2417.7 L1732.6 2188 L1671.3 2111.4 L1656 2019.5 L1610 1927.6 L1548.8 1835.7 L1502.8 1743.8 L1564.1 1651.9 L1610 1529.4 L1671.3 1437.5 L1717.2 1314.9 L1701.9 1192.4 L1763.2 1069.9 L1824.5 978 L1793.8 855.5 L1824.5 732.9 L1793.8 579.8Z"/>
<path fill="#2525bf" d="M1809.1 472.6 L1947 503.2 L2115.5 564.5 L2130.8 763.6 L2115.5 947.4 L2054.2 1100.5 L1947 1100.5 L1855.1 978 L1824.5 732.9Z"/>
<path fill="#2d2d66" d="M1732.6 487.9 L1824.5 487.9 L1855.1 732.9 L1824.5 978 L1763.2 978 L1747.9 732.9Z"/></g>
<g id="lines">
<path d="M2111 555.1 L2109.2 544.1 L2103.7 533.1 L2092.6 523.9 L2098.2 503.7 L2089 492.6 L2074.3 489 L2065.1 479.8 L2070.6 463.2 L2064 448.5 L2077.9 430.1 L2081.6 419.1 L2114.7 404.4 L2118.4 386 L2109.2 371.3 L2111 358.5 L2136.8 343.8 L2151.5 327.2 L2179 319.9 L2210.3 321.7 L2213.2 294.1 L2208.5 283.1 L2212.1 261"/><path d="M1117.2 352.7 L1123.5 350.6 L1123.5 343.2 L1117.2 336.9 L1113 328.5 L1117.2 322.2 L1125.6 318 L1134 311.7 L1140.3 304.4 L1138.2 297 L1131.9 290.7 L1123.5 289.7 L1115.1 286.5 L1121.4 282.3 L1128.8 276 L1127.7 258"/><path d="M1094.1 2272.8 L1089 2277.9 L1087.9 2286.1 L1093.1 2290.2 L1098.2 2296.4 L1101.3 2304.6 L1098.2 2311.7 L1105.4 2313.8 L1113.6 2310.7 L1121.8 2314.8 L1127.9 2322 L1132 2328.1 L1137 2340"/><path d="M1884 2300 L1890 2318 L1905 2340"/>
</g>
<g id="communes"><path d="M1235.3 648.9 L1242.6 669.1 L1257.4 680.1 L1264.7 665.4 L1294.1 658.1 L1312.5 654.4 L1341.9 632.4 L1367.6 625 L1389.7 614 L1415.4 599.3 L1426.5 606.6 L1437.5 617.6 L1455.9 614 L1477.9 602.9 L1492.6 591.9 L1511 580.9 L1529.4 593.8 L1544.1 612.1 L1558.8 628.7 L1573.5 634.2 L1595.6 636 L1617.6 639.7 L1628.7 658.1 L1632.4 672.8 L1639.7 676.5 L1661.8 676.5 L1691.2 680.1 L1695.6 694.9"/><path d="M1632.4 672.8 L1606.6 676.5 L1584.6 683.8 L1558.8 694.9 L1536.8 705.9 L1529.4 724.3 L1514.7 739 L1503.7 757.4 L1492.6 772.1 L1474.3 777.6 L1452.2 783.1 L1446.7 794.1 L1450.4 812.5 L1441.2 838.2 L1437.5 856.6 L1433.8 875 L1422.8 904.4 L1424.3 900 L1420.6 922.1 L1402.2 951.5 L1391.2 966.2 L1409.6 984.6 L1424.3 1010.3 L1420.6 1025 L1431.6 1028.7"/><path d="M1253.7 838.2 L1279.4 845.6 L1286.8 864 L1301.5 871.3 L1312.5 875 L1330.9 882.4 L1341.9 897.1 L1345.6 911.8 L1345.2 900 L1339.7 922.1 L1358.1 936.8 L1365.4 940.4 L1347.1 951.5 L1317.6 962.5 L1299.3 969.9"/><path d="M1365.4 940.4 L1383.8 951.5 L1391.2 966.2"/><path d="M1778.3 468.8 L1761.8 466.9 L1743.4 470.6 L1730.5 489 L1737.9 507.4 L1732.4 529.4 L1741.5 544.1 L1739.7 569.9 L1728.7 591.9 L1725 614 L1710.3 636 L1701.1 658.1 L1708.5 665.4 L1710.3 683.8 L1695.6 694.9 L1710.3 727.9 L1721.3 783.1 L1728.7 823.5 L1728.7 871.3"/><path d="M1728.7 871.3 L1754.4 867.6 L1783.8 852.9 L1798.5 864 L1820.6 860.3 L1850 854.8 L1857.4 867.6 L1861 889.7 L1879.4 900.7 L1890.4 908.1 L1883.1 922.8 L1875.7 950 L1868 980 L1880 1010 L1905 1040 L1930 1060 L1965 1100 L1985 1115"/><path d="M1728.7 871.3 L1717.6 904.4 L1714 950 L1720 980 L1730 1040 L1745 1090 L1790 1130 L1830 1150 L1860 1170 L1890 1150 L1920 1180 L1950 1195"/><path d="M1299.3 969.9 L1302.9 988.2 L1314 1010.3 L1321.3 1025 L1302.9 1047.1 L1297.4 1072.8 L1302.9 1098.5 L1317.6 1113.2 L1332.4 1135.3 L1376.5 1127.9 L1391.2 1127.9 L1394.9 1150 L1402.2 1168.4 L1391.2 1183.1 L1402.2 1201.5 L1413.2 1219.9 L1424.3 1227.2 L1439 1223.5"/><path d="M1005.1 1096.7 L1027.2 1096.7 L1049.3 1113.2 L1056.6 1127.9 L1078.7 1137.1 L1111.8 1139 L1130.1 1153.7 L1130.1 1175.7 L1144.9 1186.8 L1155.9 1194.1 L1185.3 1190.4 L1196.3 1205.1 L1207.4 1205.1 L1203.7 1186.8 L1222.1 1164.7 L1229.4 1142.6 L1255.1 1135.3 L1247.8 1113.2 L1247.8 1091.2 L1269.9 1083.8 L1295.6 1076.5"/><path d="M1391.2 1127.9 L1387.5 1105.9 L1405.9 1087.5 L1420.6 1076.5 L1424.3 1058.1 L1431.6 1028.7"/><path d="M1185.3 1365.1 L1200 1374.3 L1222.1 1366.9 L1244.1 1352.2 L1255.1 1337.5 L1269.9 1332 L1266.2 1352.2 L1280.9 1363.2 L1302.9 1376.1 L1317.6 1370.6 L1336 1366.9 L1354.4 1374.3 L1365.4 1366.9 L1387.5 1355.9 L1405.9 1337.5 L1413.2 1322.8 L1416.9 1304.4 L1409.6 1297.1 L1424.3 1286 L1439 1282.4 L1450 1264 L1461 1249.3 L1483.1 1241.9 L1501.5 1238.2 L1516.2 1227.2 L1527.2 1223.5"/><path d="M1185.3 1365.1 L1196.3 1389 L1192.6 1414.7 L1198.2 1440.4 L1185.3 1451.5 L1155.9 1455.1 L1141.2 1462.5 L1126.5 1455.1 L1104.4 1451.5 L1097.1 1473.5 L1086 1502.9 L1097.1 1521.3 L1089.7 1543.4 L1104.4 1554.4 L1115.4 1572.8 L1122.8 1600 L1126.5 1579.4 L1137.5 1601.5 L1133.8 1619.9"/><path d="M1439 1223.5 L1457.4 1216.2 L1479.4 1205.1 L1501.5 1199.6 L1527.2 1223.5 L1552.9 1216.2 L1582.4 1208.8 L1611.8 1205.1 L1633.8 1194.1 L1650 1190.4 L1680 1200 L1700 1230 L1730 1260 L1780 1290 L1800 1320 L1830 1340 L1860 1360 L1900 1370"/><path d="M1439 1282.4 L1439 1223.5"/><path d="M1365.4 1366.9 L1369.1 1385.3 L1391.2 1392.6 L1420.6 1385.3 L1424.3 1396.3 L1416.9 1422.1 L1391.2 1429.4 L1376.5 1444.1 L1383.8 1458.8 L1398.5 1480.9 L1413.2 1466.2 L1431.6 1473.5 L1439 1484.6 L1464.7 1491.9 L1490.4 1502.9 L1505.1 1514 L1523.5 1502.9 L1545.6 1510.3 L1552.9 1532.4 L1560.3 1547.1 L1575 1561.8 L1586 1580.1 L1593.4 1600 L1633.8 1726.5"/><path d="M1376.5 1444.1 L1354.4 1418.4 L1321.3 1434.9 L1317.6 1447.8 L1299.3 1455.1 L1280.9 1466.2 L1266.2 1473.5 L1262.5 1495.6 L1266.2 1525 L1264.3 1554.4 L1266.2 1580.1 L1258.8 1600 L1262.5 1550 L1266.2 1572.1 L1255.1 1590.4 L1247.8 1608.8"/><path d="M1021.7 1656.6 L1041.9 1645.6 L1064 1621.7 L1086 1634.6 L1108.1 1629 L1126.5 1636.4 L1133.8 1619.9 L1152.2 1629 L1166.9 1618 L1192.6 1612.5 L1222.1 1610.7 L1247.8 1608.8 L1255.1 1634.6 L1280.9 1641.9 L1314 1634.6 L1347.1 1649.3 L1358.1 1667.6 L1365.4 1693.4 L1376.5 1704.4 L1380.1 1730.1"/><path d="M1380.1 1730.1 L1354.4 1733.8 L1348.9 1755.9 L1343.4 1774.3 L1325 1789 L1310.3 1807.4 L1295.6 1803.7 L1273.5 1807.4 L1251.5 1814.7 L1246 1829.4 L1255.1 1844.1 L1273.5 1840.4 L1282.7 1862.5 L1280.9 1884.6 L1269.9 1888.2 L1282.7 1902.9 L1244.1 1906.6 L1203.7 1902.9 L1183.5 1904.8 L1183.5 1936 L1203.7 1954.4 L1225.7 1969.1 L1227.6 2002.2 L1214.7 2009.6 L1192.6 2020.6 L1185.3 2005.9 L1177.9 1983.8 L1148.5 1972.8 L1141.2 1958.1 L1130.1 1950.7 L1119.1 1969.1 L1089.7 1982"/><path d="M1380.1 1730.1 L1391.2 1748.5 L1413.2 1763.2 L1431.6 1741.2 L1464.7 1726.5 L1490.4 1724.6 L1501.5 1744.9 L1508.8 1770.6 L1534.6 1792.6 L1556.6 1785.3 L1575 1770.6 L1597.1 1752.2 L1622.8 1741.2 L1633.8 1726.5 L1650 1722.8 L1700 1700 L1720 1680 L1740 1690"/><path d="M1227.6 2002.2 L1255.1 2027.9 L1280.9 2048.2 L1302.9 2068.4 L1325 2094.1 L1347.1 2084.9 L1378.3 2081.2 L1371 2039 L1380.1 2013.2 L1376.5 1983.8 L1398.5 1965.4 L1420.6 1954.4 L1435.3 1939.7 L1464.7 1950.7 L1494.1 1936 L1523.5 1928.7 L1556.6 1917.6 L1589.7 1912.1 L1622.8 1921.3 L1650 1914 L1680 1890 L1700 1860 L1720 1850"/><path d="M1378.3 2081.2 L1383.8 2094.1 L1409.6 2101.5 L1427.9 2112.5 L1442.6 2118 L1457.4 2134.6 L1455.5 2160.3 L1453.7 2178.7"/></g>
<g id="islands"><ellipse cx="1098.3" cy="386.3" rx="6.3" ry="3.5" transform="rotate(35 1098.3 386.3)"/><ellipse cx="1088.9" cy="407.3" rx="4.2" ry="12.5" transform="rotate(8 1088.9 407.3)"/><ellipse cx="1128.8" cy="403.1" rx="7.5" ry="5" transform="rotate(-25 1128.8 403.1)"/><ellipse cx="1207.6" cy="500.8" rx="4.2" ry="3.8" transform="rotate(0 1207.6 500.8)"/><ellipse cx="1084.7" cy="589" rx="3.7" ry="3.7" transform="rotate(0 1084.7 589)"/><ellipse cx="1092" cy="612.1" rx="5.2" ry="5.8" transform="rotate(20 1092 612.1)"/><ellipse cx="1219.1" cy="585.9" rx="4.7" ry="5.2" transform="rotate(0 1219.1 585.9)"/></g>
<g id="valleys"><g fill="none" stroke-linecap="butt" stroke-linejoin="round"><path d="M1483.1 873 L1516.4 879.7 L1536.4 888.3 L1563 891 L1583 897.7 L1606.3 899.7 L1629.7 903 L1656.3 899.7 L1683 893 L1702.9 883 L1722.9 871 L1736.3 853 L1746.3 829.7 L1749.6 806.4 L1756.3 783.1" stroke="#6b8527" stroke-width="6.7" stroke-dasharray="14 8 22 10 9 7"/><path d="M1443.1 866.4 L1463.1 869.7 L1483.1 873" stroke="#6b8527" stroke-width="4.9" stroke-dasharray="6 9"/><path d="M1606.3 899.7 L1599.7 876.3 L1609.7 849.7 L1616.3 836.4" stroke="#6b8527" stroke-width="5.5" stroke-dasharray="14 8 22 10 9 7"/><path d="M1569.7 891 L1573 909.7 L1579.7 923" stroke="#6b8527" stroke-width="6.1" stroke-dasharray="14 8 22 10 9 7"/><path d="M1606.3 901.7 L1609.7 916.3 L1616.3 929.7" stroke="#6b8527" stroke-width="6.1" stroke-dasharray="14 8 22 10 9 7"/><path d="M1683 893 L1686.3 906.3 L1689.6 916.3" stroke="#6b8527" stroke-width="5.5" stroke-dasharray="14 8 22 10 9 7"/><path d="M1722.9 871 L1736.3 883 L1749.6 906.3 L1757.6 936.3 L1760.3 969.6 L1762.9 989.6 L1766.9 1006.3 L1764.2 1029.6" stroke="#6b8527" stroke-width="5.5" stroke-dasharray="14 8 22 10 9 7"/><path d="M1760.3 943 L1789.6 949.6 L1816.2 973 L1842.9 996.3" stroke="#6b8527" stroke-width="4.0" stroke-dasharray="8 8"/><path d="M1749.6 906.3 L1789.6 906.3 L1816.2 903" stroke="#6b8527" stroke-width="4.0" stroke-dasharray="8 8"/><path d="M1483.1 1139.5 L1523 1119.6 L1556.4 1106.2 L1589.7 1082.9 L1623 1060.3 L1649.6 1056.3 L1671 1070.9 L1683 1102.9 L1697.6 1136.2 L1716.3 1164.2 L1749.6 1181.5" stroke="#6b8527" stroke-width="4.6" stroke-dasharray="20 5"/><path d="M1456.4 1349.9 L1496.4 1343.3 L1549.7 1364.6 L1603 1356.6 L1656.3 1371.3 L1689.6 1386.6" stroke="#6b8527" stroke-width="6.1" stroke-dasharray="14 8 22 10 9 7"/><path d="M1483.1 1416.6 L1549.7 1449.9 L1589.7 1503.2 L1643 1529.9 L1696.3 1544.5 L1736.3 1563.2" stroke="#6b8527" stroke-width="5.5" stroke-dasharray="14 8 22 10 9 7"/><path d="M1589.7 1503.2 L1616.3 1449.9 L1656.3 1423.2" stroke="#6b8527" stroke-width="4.9" stroke-dasharray="14 8 22 10 9 7"/><path d="M1549.7 1364.6 L1576.3 1403.3 L1589.7 1449.9" stroke="#6b8527" stroke-width="4.9" stroke-dasharray="14 8 22 10 9 7"/><path d="M1389.8 1529.9 L1416.4 1583.2 L1431.1 1623.1 L1456.4 1649.8" stroke="#6b8527" stroke-width="4.9" stroke-dasharray="14 8 22 10 9 7"/><path d="M1443.1 1849.7 L1496.4 1829.7 L1549.7 1809.7 L1577.7 1769.7 L1604.3 1729.8" stroke="#6b8527" stroke-width="5.2" stroke-dasharray="14 8 22 10 9 7"/><path d="M1416.4 2036.3 L1483.1 2022.9 L1549.7 2016.3 L1616.3 2036.3 L1669.6 2070.9 L1697.6 2116.2 L1709.6 2182.9 L1702.9 2236.2" stroke="#6b8527" stroke-width="6.1" stroke-dasharray="14 8 22 10 9 7"/><path d="M1669.6 2070.9 L1716.3 2089.6 L1749.6 2136.2 L1759.6 2196.2" stroke="#6b8527" stroke-width="5.2" stroke-dasharray="14 8 22 10 9 7"/><path d="M1616.3 2036.3 L1643 1996.3 L1683 1976.3" stroke="#6b8527" stroke-width="4.9" stroke-dasharray="14 8 22 10 9 7"/><path d="M1697.6 2116.2 L1669.6 2156.2 L1656.3 2196.2" stroke="#6b8527" stroke-width="4.9" stroke-dasharray="14 8 22 10 9 7"/><path d="M1483.1 873 L1516.4 879.7 L1536.4 888.3 L1563 891 L1583 897.7 L1606.3 899.7 L1629.7 903 L1656.3 899.7 L1683 893 L1702.9 883 L1722.9 871 L1736.3 853 L1746.3 829.7 L1749.6 806.4 L1756.3 783.1" stroke="#566e23" stroke-width="3.9" stroke-dasharray="14 8 22 10 9 7" stroke-dashoffset="3"/><path d="M1443.1 866.4 L1463.1 869.7 L1483.1 873" stroke="#566e23" stroke-width="2.2" stroke-dasharray="6 9" stroke-dashoffset="3"/><path d="M1606.3 899.7 L1599.7 876.3 L1609.7 849.7 L1616.3 836.4" stroke="#566e23" stroke-width="2.8" stroke-dasharray="14 8 22 10 9 7" stroke-dashoffset="3"/><path d="M1569.7 891 L1573 909.7 L1579.7 923" stroke="#566e23" stroke-width="3.3" stroke-dasharray="14 8 22 10 9 7" stroke-dashoffset="3"/><path d="M1606.3 901.7 L1609.7 916.3 L1616.3 929.7" stroke="#566e23" stroke-width="3.3" stroke-dasharray="14 8 22 10 9 7" stroke-dashoffset="3"/><path d="M1683 893 L1686.3 906.3 L1689.6 916.3" stroke="#566e23" stroke-width="2.8" stroke-dasharray="14 8 22 10 9 7" stroke-dashoffset="3"/><path d="M1722.9 871 L1736.3 883 L1749.6 906.3 L1757.6 936.3 L1760.3 969.6 L1762.9 989.6 L1766.9 1006.3 L1764.2 1029.6" stroke="#566e23" stroke-width="2.8" stroke-dasharray="14 8 22 10 9 7" stroke-dashoffset="3"/><path d="M1760.3 943 L1789.6 949.6 L1816.2 973 L1842.9 996.3" stroke="#566e23" stroke-width="1.4" stroke-dasharray="8 8" stroke-dashoffset="3"/><path d="M1749.6 906.3 L1789.6 906.3 L1816.2 903" stroke="#566e23" stroke-width="1.4" stroke-dasharray="8 8" stroke-dashoffset="3"/><path d="M1483.1 1139.5 L1523 1119.6 L1556.4 1106.2 L1589.7 1082.9 L1623 1060.3 L1649.6 1056.3 L1671 1070.9 L1683 1102.9 L1697.6 1136.2 L1716.3 1164.2 L1749.6 1181.5" stroke="#566e23" stroke-width="1.9" stroke-dasharray="20 5" stroke-dashoffset="3"/><path d="M1456.4 1349.9 L1496.4 1343.3 L1549.7 1364.6 L1603 1356.6 L1656.3 1371.3 L1689.6 1386.6" stroke="#566e23" stroke-width="3.3" stroke-dasharray="14 8 22 10 9 7" stroke-dashoffset="3"/><path d="M1483.1 1416.6 L1549.7 1449.9 L1589.7 1503.2 L1643 1529.9 L1696.3 1544.5 L1736.3 1563.2" stroke="#566e23" stroke-width="2.8" stroke-dasharray="14 8 22 10 9 7" stroke-dashoffset="3"/><path d="M1589.7 1503.2 L1616.3 1449.9 L1656.3 1423.2" stroke="#566e23" stroke-width="2.2" stroke-dasharray="14 8 22 10 9 7" stroke-dashoffset="3"/><path d="M1549.7 1364.6 L1576.3 1403.3 L1589.7 1449.9" stroke="#566e23" stroke-width="2.2" stroke-dasharray="14 8 22 10 9 7" stroke-dashoffset="3"/><path d="M1389.8 1529.9 L1416.4 1583.2 L1431.1 1623.1 L1456.4 1649.8" stroke="#566e23" stroke-width="2.2" stroke-dasharray="14 8 22 10 9 7" stroke-dashoffset="3"/><path d="M1443.1 1849.7 L1496.4 1829.7 L1549.7 1809.7 L1577.7 1769.7 L1604.3 1729.8" stroke="#566e23" stroke-width="2.5" stroke-dasharray="14 8 22 10 9 7" stroke-dashoffset="3"/><path d="M1416.4 2036.3 L1483.1 2022.9 L1549.7 2016.3 L1616.3 2036.3 L1669.6 2070.9 L1697.6 2116.2 L1709.6 2182.9 L1702.9 2236.2" stroke="#566e23" stroke-width="3.3" stroke-dasharray="14 8 22 10 9 7" stroke-dashoffset="3"/><path d="M1669.6 2070.9 L1716.3 2089.6 L1749.6 2136.2 L1759.6 2196.2" stroke="#566e23" stroke-width="2.5" stroke-dasharray="14 8 22 10 9 7" stroke-dashoffset="3"/><path d="M1616.3 2036.3 L1643 1996.3 L1683 1976.3" stroke="#566e23" stroke-width="2.2" stroke-dasharray="14 8 22 10 9 7" stroke-dashoffset="3"/><path d="M1697.6 2116.2 L1669.6 2156.2 L1656.3 2196.2" stroke="#566e23" stroke-width="2.2" stroke-dasharray="14 8 22 10 9 7" stroke-dashoffset="3"/></g></g>
<g id="lakes"><g fill="#005ce6" stroke="#6e6e6e" stroke-width="1.8" stroke-linejoin="round"><path d="M1411.6 1328.7 L1418.7 1328.7 L1422.3 1331.6 L1427.4 1330.1 L1431.7 1327.3 L1441.7 1328.7 L1444.6 1325.8 L1448.2 1328 L1456.1 1324.4 L1469.7 1325.1 L1476.2 1328 L1484 1331.6 L1475.4 1330.1 L1460.4 1329.4 L1453.2 1333 L1448.9 1336.6 L1441 1338.7 L1433.1 1340.2 L1431.7 1343.1 L1433.1 1353.8 L1439.6 1355.3 L1448.9 1354.5 L1457.5 1350.9 L1462.5 1355.3 L1470.4 1358.8 L1474 1366.7 L1472.6 1374.6 L1468.3 1378.9 L1464.7 1388.3 L1456.1 1391.8 L1455.3 1386.1 L1458.9 1378.9 L1457.5 1370.3 L1451.8 1366.7 L1444.6 1364.6 L1434.5 1365.3 L1426.6 1363.1 L1420.2 1362.4 L1413 1363.9 L1405.8 1366.7 L1404.4 1363.1 L1411.6 1357.4 L1414.4 1346.6 L1414.4 1337.3Z"/><path d="M1374.6 1170.2 L1378.3 1172.1 L1374.6 1183.1 L1380.1 1186.8 L1387.5 1184.9 L1382 1192.3 L1372.8 1194.1 L1369.1 1186.8Z"/><path d="M1378.3 1530.5 L1385.7 1532.4 L1391.2 1543.4 L1398.5 1558.1 L1396.7 1561.8 L1389.3 1554.4 L1382 1543.4Z"/><path d="M2051.4 1008.3 L2056.1 1010.9 L2060.1 1029.6 L2056.1 1032.3Z"/><path d="M1894.8 2153.5 L1904.2 2150.9 L1902.8 2157.5 L1896.2 2158.9Z"/></g></g>
</defs>
<rect width="3509" height="3425" fill="#fff"/>

<text x="1751.5" y="136.5" text-anchor="middle" class="b" font-size="66.4">Indice de Vegetacion de Diferencia Normalizada (NDVI) de la Región de Coquimbo</text>
<text x="1762.3" y="212.5" text-anchor="middle" class="b" font-size="66.4">16 al 31 de octubre</text>
<g clip-path="url(#frameclip)">
<g clip-path="url(#region)"><g filter="url(#fMain)"><use href="#field"/></g><g filter="url(#rough)"><use href="#valleys"/></g><use href="#lakes"/></g><use href="#communes" fill="none" stroke="#b0b0b0" stroke-width="2.2"/><use href="#outline" fill="none" stroke="#b0b0b0" stroke-width="3.0" stroke-linejoin="round"/><use href="#lines" fill="none" stroke="#b0b0b0" stroke-width="3.0" stroke-linejoin="round"/><use href="#islands" fill="#b4b4b4" stroke="#b4b4b4" stroke-width="0.0"/>
</g>
<g class="lab">
<text x="1454.8" y="499.7" fill="#333">La Higuera</text><text x="1453.3" y="498.2">La Higuera</text>
<text x="1256.3" y="744.1" fill="#333">La Serena</text><text x="1254.8" y="742.6">La Serena</text>
<text x="1738.0" y="830.5" fill="#333">Vicuña</text><text x="1736.5" y="829">Vicuña</text>
<text x="1111.0" y="1046.7" fill="#333">Coquimbo</text><text x="1109.5" y="1045.2">Coquimbo</text>
<text x="1348.5" y="1066.9" fill="#333">Andacollo</text><text x="1347" y="1065.4">Andacollo</text>
<text x="1727.1" y="1048.5" fill="#333">Paiguano</text><text x="1725.6" y="1047">Paiguano</text>
<text x="1446.8" y="1175.4" fill="#333">Río Hurtado</text><text x="1445.3" y="1173.9">Río Hurtado</text>
<text x="1050.5" y="1339.0" fill="#333">Ovalle</text><text x="1049" y="1337.5">Ovalle</text>
<text x="1508.5" y="1434.5" fill="#333">Monte Patria</text><text x="1507" y="1433">Monte Patria</text>
<text x="1089.2" y="1506.3" fill="#333">Punitaqui</text><text x="1087.7" y="1504.8">Punitaqui</text>
<text x="1281.9" y="1612.2" fill="#333">Combarbalá</text><text x="1280.4" y="1610.7">Combarbalá</text>
<text x="1111.0" y="1785.0" fill="#333">Canela</text><text x="1109.5" y="1783.5">Canela</text>
<text x="1406.5" y="1891.5" fill="#333">Illapel</text><text x="1405" y="1890">Illapel</text>
<text x="1493.9" y="2112.1" fill="#333">Salamanca</text><text x="1492.4" y="2110.6">Salamanca</text>
<text x="1177.1" y="2165.5" fill="#333">Los Vilos</text><text x="1175.6" y="2164">Los Vilos</text>
</g>
<g stroke="#c8c8c8" stroke-width="4" stroke-dasharray="7.9 8.72" fill="none">
<path d="M155 262.6 V2337"/>
<path d="M796 262.6 V2337"/>
<path d="M1437 262.6 V2337"/>
<path d="M2078 262.6 V2337"/>
<path d="M2718.5 262.6 V2337"/>
<path d="M128 877.3 H3058"/>
<path d="M128 1518 H3058"/>
<path d="M128 2158.3 H3058"/>
</g>
<rect x="119" y="262" width="2939" height="2075" fill="none" stroke="#000" stroke-width="6"/>
<g stroke="#000" stroke-width="5.5" stroke-linecap="round">
<path d="M155 262 V240.7"/><path d="M155 2337 V2357"/>
<path d="M796 262 V240.7"/><path d="M796 2337 V2357"/>
<path d="M1437 262 V240.7"/><path d="M1437 2337 V2357"/>
<path d="M2078 262 V240.7"/><path d="M2078 2337 V2357"/>
<path d="M2718.5 262 V240.7"/><path d="M2718.5 2337 V2357"/>
<path d="M119 877.3 H99"/><path d="M3058 877.3 H3078"/>
<path d="M119 1518 H99"/><path d="M3058 1518 H3078"/>
<path d="M119 2158.3 H99"/><path d="M3058 2158.3 H3078"/>
</g>
<text class="ax" x="155" y="2397.5">73°0'0"W</text>
<text class="ax" x="796" y="2397.5">72°0'0"W</text>
<text class="ax" x="1437" y="2397.5">71°0'0"W</text>
<text class="ax" x="2078" y="2397.5">70°0'0"W</text>
<text class="ax" x="2718.5" y="2397.5">69°0'0"W</text>
<text class="ax" transform="translate(86.5 877.3) rotate(-90)">30°0'0"S</text>
<text class="ax" transform="translate(3117.5 877.3) rotate(-90)">30°0'0"S</text>
<text class="ax" transform="translate(86.5 1518) rotate(-90)">31°0'0"S</text>
<text class="ax" transform="translate(3117.5 1518) rotate(-90)">31°0'0"S</text>
<text class="ax" transform="translate(86.5 2158.3) rotate(-90)">32°0'0"S</text>
<text class="ax" transform="translate(3117.5 2158.3) rotate(-90)">32°0'0"S</text>
<g stroke="#000" stroke-width="1.6" stroke-linejoin="miter">
<path d="M2949.5 377.0 L2904.7 399.3 L2882.0 444.5Z" fill="#000"/>
<path d="M2949.5 377.0 L2927.2 421.8 L2882.0 444.5Z" fill="#fff"/>
<path d="M2949.5 512.0 L2927.2 467.2 L2882.0 444.5Z" fill="#000"/>
<path d="M2949.5 512.0 L2904.7 489.7 L2882.0 444.5Z" fill="#fff"/>
<path d="M2814.5 512.0 L2859.3 489.7 L2882.0 444.5Z" fill="#000"/>
<path d="M2814.5 512.0 L2836.8 467.2 L2882.0 444.5Z" fill="#fff"/>
<path d="M2814.5 377.0 L2836.8 421.8 L2882.0 444.5Z" fill="#000"/>
<path d="M2814.5 377.0 L2859.3 399.3 L2882.0 444.5Z" fill="#fff"/>
<path d="M2882.0 309.0 L2859.3 399.3 L2882.0 444.5Z" fill="#000"/>
<path d="M2882.0 309.0 L2904.7 399.3 L2882.0 444.5Z" fill="#fff"/>
<path d="M3017.5 444.5 L2927.2 421.8 L2882.0 444.5Z" fill="#000"/>
<path d="M3017.5 444.5 L2927.2 467.2 L2882.0 444.5Z" fill="#fff"/>
<path d="M2882.0 580.0 L2904.7 489.7 L2882.0 444.5Z" fill="#000"/>
<path d="M2882.0 580.0 L2859.3 489.7 L2882.0 444.5Z" fill="#fff"/>
<path d="M2746.5 444.5 L2836.8 467.2 L2882.0 444.5Z" fill="#000"/>
<path d="M2746.5 444.5 L2836.8 421.8 L2882.0 444.5Z" fill="#fff"/>
</g>
<text class="cp" x="2882" y="300.5">N</text><text class="cp" x="2882.5" y="612">S</text><text class="cp" x="3034" y="455">E</text><text class="cp" x="2725" y="455">W</text>
<rect x="2298.7" y="2296.5" width="694.1000000000004" height="24" fill="none" stroke="#000" stroke-width="4"/>
<rect x="2298.7" y="2296.5" width="117.6833333333334" height="24" fill="#000"/><rect x="2528.0666666666666" y="2296.5" width="117.6833333333334" height="24" fill="#000"/>
<text class="sc" x="2298.7" y="2275">0</text>
<text class="sc" x="2472.2" y="2275">30</text>
<text class="sc" x="2642.8" y="2275">60</text>
<text class="sc" x="2990.8" y="2275">120</text>
<text class="sc" x="3006" y="2319.5" style="text-anchor:start">Km</text>
<rect x="3147.7" y="945.0" width="129.6" height="84.9" fill="#e1e1e1" stroke="#6e6e6e" stroke-width="3.4"/>
<text class="lg" x="3299" y="1006.7">-0.1 - 0</text>
<rect x="3147.7" y="1038.8" width="129.6" height="84.9" fill="#cd7a2c" stroke="#6e6e6e" stroke-width="3.4"/>
<text class="lg" x="3299" y="1100.5">0 - 0.1</text>
<rect x="3147.7" y="1132.7" width="129.6" height="84.9" fill="#dfa74f" stroke="#6e6e6e" stroke-width="3.4"/>
<text class="lg" x="3299" y="1194.4">0.1 - 0.2</text>
<rect x="3147.7" y="1226.5" width="129.6" height="84.9" fill="#f0d46e" stroke="#6e6e6e" stroke-width="3.4"/>
<text class="lg" x="3299" y="1288.2">0.2 - 0.3</text>
<rect x="3147.7" y="1320.4" width="129.6" height="84.9" fill="#6b8527" stroke="#6e6e6e" stroke-width="3.4"/>
<text class="lg" x="3299" y="1382.1">0.3 - 0.4</text>
<rect x="3147.7" y="1414.2" width="129.6" height="84.9" fill="#566e23" stroke="#6e6e6e" stroke-width="3.4"/>
<text class="lg" x="3299" y="1476.0">0.4 - 0.5</text>
<rect x="3147.7" y="1508.1" width="129.6" height="84.9" fill="#4f6622" stroke="#6e6e6e" stroke-width="3.4"/>
<text class="lg" x="3299" y="1569.8">0.5 - 0.6</text>
<rect x="3147.7" y="1601.9" width="129.6" height="84.9" fill="#3a4d18" stroke="#6e6e6e" stroke-width="3.4"/>
<text class="lg" x="3299" y="1663.6">0.6 - 0.7</text>
<rect x="3147.7" y="1695.8" width="129.6" height="84.9" fill="#263510" stroke="#6e6e6e" stroke-width="3.4"/>
<text class="lg" x="3299" y="1757.5">0.7 - 0.8</text>
<rect x="3147.7" y="1789.7" width="129.6" height="84.9" fill="#1e2d0c" stroke="#6e6e6e" stroke-width="3.4"/>
<text class="lg" x="3299" y="1851.4">0.8 - 0.9</text>
<rect x="3147.7" y="1883.5" width="129.6" height="84.9" fill="#0c1a07" stroke="#6e6e6e" stroke-width="3.4"/>
<text class="lg" x="3299" y="1945.2">0.9 - 1</text>
<rect x="3147.5" y="1994" width="129.5" height="85.5" fill="#005ce6" stroke="#6e6e6e" stroke-width="1.5"/>
<text class="lg" x="3299" y="2056">Lagos</text>
<clipPath id="ic0"><rect x="100.8" y="2511.0" width="1025.5" height="795.8"/></clipPath>
<g clip-path="url(#ic0)"><g transform="translate(7.0 2412.7) scale(0.381)">
<g clip-path="url(#region)"><g filter="url(#fMin)"><use href="#fieldmin"/></g><g filter="url(#rough)"><use href="#valleys"/></g></g><use href="#outline" fill="none" stroke="#b0b0b0" stroke-width="5.3999999999999995" stroke-linejoin="round"/><use href="#lines" fill="none" stroke="#b0b0b0" stroke-width="5.3999999999999995" stroke-linejoin="round"/><use href="#islands" fill="#b4b4b4" stroke="#b4b4b4" stroke-width="2.4"/>
</g></g>
<rect x="100.8" y="2511.0" width="1025.5" height="795.8" fill="none" stroke="#000" stroke-width="3.6"/>
<text class="big" x="111.4" y="3291.1">Mínima</text>
<clipPath id="ic1"><rect x="1223.1" y="2505.1" width="1025.5" height="795.8"/></clipPath>
<g clip-path="url(#ic1)"><g transform="translate(1138.3 2414.9) scale(0.3747)">
<g clip-path="url(#region)"><g filter="url(#fMed)"><use href="#field"/></g><g filter="url(#rough)"><use href="#valleys"/></g></g><use href="#outline" fill="none" stroke="#b0b0b0" stroke-width="5.3999999999999995" stroke-linejoin="round"/><use href="#lines" fill="none" stroke="#b0b0b0" stroke-width="5.3999999999999995" stroke-linejoin="round"/><use href="#islands" fill="#b4b4b4" stroke="#b4b4b4" stroke-width="2.4"/>
</g></g>
<rect x="1223.1" y="2505.1" width="1025.5" height="795.8" fill="none" stroke="#000" stroke-width="3.6"/>
<text class="big" x="1228.9" y="3282.9">Media</text>
<clipPath id="ic2"><rect x="2344.1" y="2496.1" width="1025.5" height="795.8"/></clipPath>
<g clip-path="url(#ic2)"><g transform="translate(2259.3 2405.9) scale(0.3747)">
<g clip-path="url(#region)"><g filter="url(#fMax)"><use href="#field"/><path fill="#2b2b66" d="M1696.3 1243.3 L1683 1349.9 L1629.7 1449.9 L1596.3 1529.9 L1549.7 1596.5 L1523 1663.1 L1523 1756.4 L1589.7 1783.1 L1623 1849.7 L1636.3 1949.6 L1689.6 2016.3 L1696.3 2116.2 L1689.6 2182.9 L1689.6 2382.8 L2282.6 2382.8 L2282.6 1243.3Z"/><path fill="#2d2d66" d="M1722.9 916.3 L2282.6 916.3 L2282.6 1350.1 L1689.6 1350.1 L1702.9 1249.5 L1712.9 1182.9 L1702.9 1116.2 L1709.6 1049.6 L1726.3 983Z"/><path fill="#333361" d="M2069.4 649.8 L2216 649.8 L2216 923 L2069.4 923Z"/></g><g filter="url(#rough)"><use href="#valleys"/></g></g><use href="#outline" fill="none" stroke="#b0b0b0" stroke-width="5.3999999999999995" stroke-linejoin="round"/><use href="#lines" fill="none" stroke="#b0b0b0" stroke-width="5.3999999999999995" stroke-linejoin="round"/><use href="#islands" fill="#b4b4b4" stroke="#b4b4b4" stroke-width="2.4"/>
</g></g>
<rect x="2344.1" y="2496.1" width="1025.5" height="795.8" fill="none" stroke="#000" stroke-width="3.6"/>
<text class="big" x="2352.5" y="3277.6">Máxima</text>
</svg></body></html>
